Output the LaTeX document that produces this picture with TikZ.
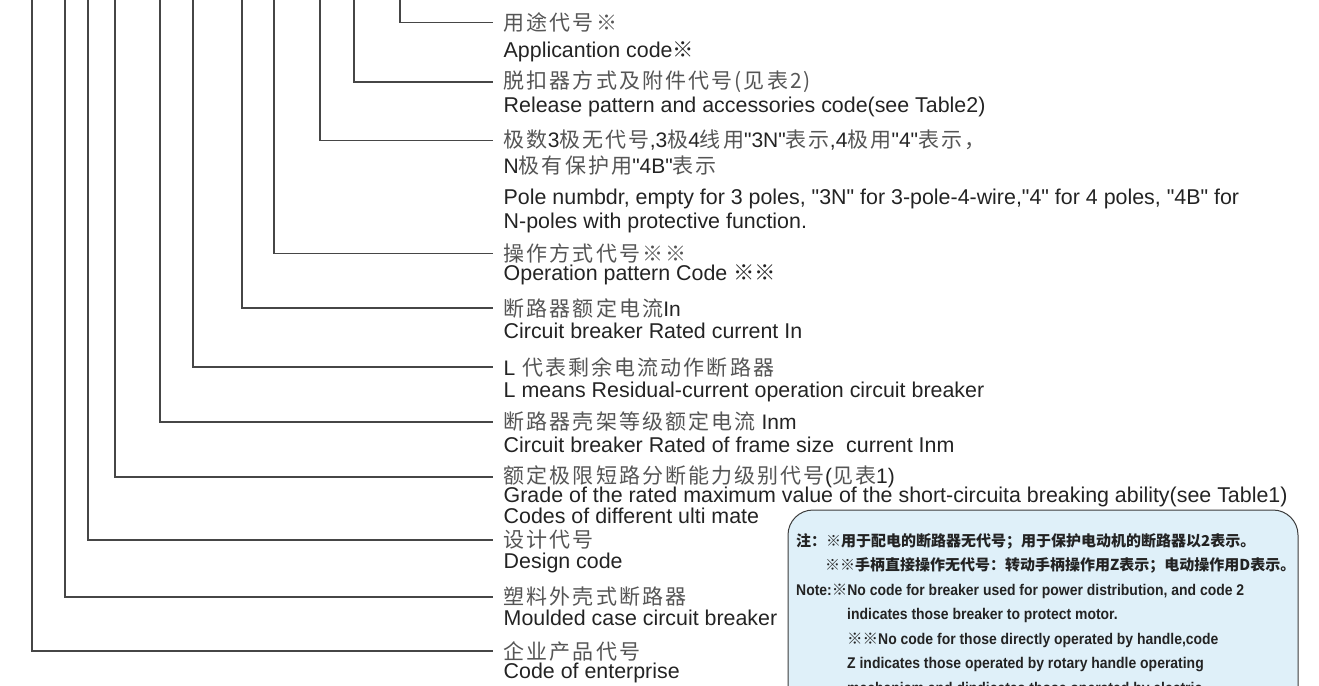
\documentclass[tikz,border=0pt]{standalone}
\usepackage{fontspec}
\setmainfont{Liberation Sans}[Ligatures=TeXOff]
\newfontfamily\cjk{Noto Sans CJK SC}
\newfontfamily\cjkspaced{Noto Sans CJK SC}[LetterSpace=10]
\newfontfamily\narrowbf{Liberation Sans}[FakeStretch=0.9]
\usetikzlibrary{positioning}
\definecolor{leadgray}{RGB}{70,70,70}
\definecolor{textdark}{RGB}{35,35,35}
\definecolor{zhgray}{RGB}{85,85,85}
\definecolor{noteblue}{RGB}{223,240,249}
\definecolor{boxline}{RGB}{60,60,60}
\newcommand{\zh}[1]{{\cjk #1}}
\newcommand{\zhnote}[1]{{\cjk\fontsize{15}{24.5}\selectfont #1}}
\newcommand{\en}[1]{{\rmfamily\color{textdark}#1}}

\begin{document}
\begin{tikzpicture}[x=1pt, y=-1pt,
  every node/.style={inner ysep=0pt, inner xsep=10.5pt},
  lead/.style={draw=leadgray, line width=1.1pt},
  zhlabel/.style={anchor=west, text=zhgray, font=\cjkspaced\fontsize{21}{24}\selectfont},
  enlabel/.style={anchor=base west, text=textdark, font=\fontsize{21.4}{24}\selectfont},
  notebox/.style={draw=boxline, fill=noteblue, rounded corners=25pt, line width=1pt},
  notetext/.style={anchor=north west, inner sep=0pt, align=left, text=textdark, font=\narrowbf\bfseries\fontsize{15.5}{24.5}\selectfont}]
  \useasboundingbox (0,0) rectangle (1319,685);
  \clip (0,0) rectangle (1319,685);
  \foreach \n/\x in {1/400, 2/354, 3/320, 4/274, 5/242, 6/193, 7/160, 8/115, 9/88, 10/65, 11/32}
    \coordinate (t\n) at (\x,-2);

  \node[zhlabel] (c1) at (493,22.5) {用途代号※};
  \node[enlabel] (e1) at (493,57) {Applicantion code\zh{※}};
  \node[zhlabel] (c2) at (493,82) {脱扣器方式及附件代号(见表2)};
  \node[enlabel] (e2) at (493,112) {Release pattern and accessories code(see Table2)};
  \node[zhlabel] (c3) at (493,140.5) {极数\en{3}极无代号\en{,3}极\en{4}线用\en{"3N"}表示\en{,4}极用\en{"4"}表示，};
  \node[zhlabel] (c3b) at (493,166) {\en{N}极有保护用\en{"4B"}表示};
  \node[enlabel] (e3) at (493,204) {Pole numbdr, empty for 3 poles, "3N" for 3-pole-4-wire,"4" for 4 poles, "4B" for};
  \node[enlabel] (e3b) at (493,228) {N-poles with protective function.};
  \node[zhlabel] (c4) at (493,253.5) {操作方式代号※※};
  \node[enlabel] (e4) at (493,280) {Operation pattern Code \zh{※※}};
  \node[zhlabel] (c5) at (493,308) {断路器额定电流\en{In}};
  \node[enlabel] (e5) at (493,338) {Circuit breaker Rated current In};
  \node[zhlabel] (c6) at (493,367) {\en{L} 代表剩余电流动作断路器};
  \node[enlabel] (e6) at (493,397) {L means Residual-current operation circuit breaker};
  \node[zhlabel] (c7) at (493,422) {断路器壳架等级额定电流\en{\ Inm}};
  \node[enlabel] (e7) at (493,452) {Circuit breaker Rated of frame size\ \ current Inm};
  \node[zhlabel] (c8) at (493,477) {额定极限短路分断能力级别代号\en{(}见表\en{1)}};
  \node[enlabel] (e8) at (493,502) {Grade of the rated maximum value of the short-circuita breaking ability(see Table1)};
  \node[enlabel] (e8b) at (493,523) {Codes of different ulti mate};
  \node[zhlabel] (c9) at (493,540) {设计代号};
  \node[enlabel] (e9) at (493,568) {Design code};
  \node[zhlabel] (c10) at (493,597) {塑料外壳式断路器};
  \node[enlabel] (e10) at (493,625) {Moulded case circuit breaker};
  \node[zhlabel] (c11) at (493,651) {企业产品代号};
  \node[enlabel] (e11) at (493,678) {Code of enterprise};

  \foreach \n in {1,...,11}
    \draw[lead] (t\n) |- (c\n.west);

  \draw[notebox] (788,510) rectangle (1298,740);
  \node[notetext] (note) at (796,533) {%
    \zhnote{注：※用于配电的断路器无代号；用于保护电动机的断路器以2表示。}\\
    \hspace*{29pt}\zhnote{※※手柄直接操作无代号：转动手柄操作用Z表示；电动操作用D表示。}\\
    Note:\zh{※}No code for breaker used for power distribution, and code 2\\
    \hspace*{51pt}indicates those breaker to protect motor.\\
    \hspace*{51pt}\zh{※※}No code for those directly operated by handle,code\\
    \hspace*{51pt}Z indicates those operated by rotary handle operating\\
    \hspace*{51pt}mechanism and dindicates those operated by electric};
\end{tikzpicture}
\end{document}
